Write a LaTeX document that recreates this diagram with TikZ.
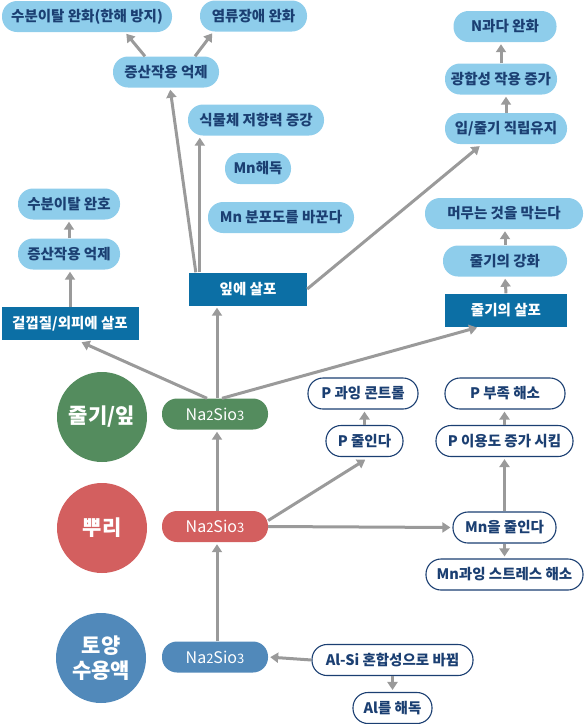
\documentclass[tikz,border=0pt]{standalone}
\usepackage{fontspec}
\setmainfont{Noto Sans CJK KR}
\usetikzlibrary{arrows.meta,calc}
\definecolor{c0}{HTML}{8ECDEB}
\definecolor{c1}{HTML}{0C6FA5}
\definecolor{c2}{HTML}{1B3F72}
\definecolor{c3}{HTML}{548C5E}
\definecolor{c4}{HTML}{D35F5F}
\definecolor{c5}{HTML}{5189BA}
\definecolor{c6}{HTML}{9A9A9A}
\tikzset{%
  pill/.style={rectangle,rounded corners=15pt,fill=c0,text=c2,inner sep=0pt,
    minimum width=#1,minimum height=31pt,font=\bfseries\fontsize{14.5}{17}\selectfont},
  ring/.style={rectangle,rounded corners=15pt,draw=c2,line width=1.1pt,fill=white,text=c2,
    inner sep=0pt,minimum width=#1,minimum height=31pt,font=\bfseries\fontsize{14.5}{17}\selectfont},
  spray/.style={rectangle,fill=c1,text=white,inner sep=0pt,minimum width=#1,
    minimum height=33pt,font=\bfseries\fontsize{14.5}{17}\selectfont},
  na/.style={rectangle,rounded corners=15pt,fill=#1,text=white,inner sep=0pt,
    minimum width=106pt,minimum height=31pt,font=\fontsize{16}{18}\selectfont},
  part/.style={circle,fill=#1,text=white,inner sep=0pt,minimum size=90pt,align=center,
    font=\bfseries\fontsize{21}{25}\selectfont},
  arr/.style={c6,line width=3pt,shorten >=2pt,-{Triangle[width=10pt,length=8pt]}}
}
\newcommand\nasio{Na{\fontsize{13}{15}\selectfont 2}Sio{\fontsize{13}{15}\selectfont 3}}

\begin{document}
\begin{tikzpicture}[x=1pt,y=-1pt]
  \useasboundingbox (0,0) rectangle (584,724);
  % Parts
  \node[part=c3] (stemleaf) at (102,417) {줄기/잎};
  \node[part=c4] (root) at (102,528) {뿌리};
  \node[part=c5] (soil) at (101,658) {토양\\수용액};
  \node[na=c3] (gNa) at (215,414) {\nasio};
  \node[na=c4] (rNa) at (215,526.5) {\nasio};
  \node[na=c5] (sNa) at (215,657) {\nasio};
  % Sprays
  \node[spray=118pt] (leafspray) at (248,289) {잎에 살포};
  \node[spray=122pt] (stemspray) at (506,310) {줄기의 살포};
  \node[spray=137pt] (bark) at (70,323.5) {겉껍질/외피에 살포};
  % Effects of leaf spray
  \node[pill=170pt] (drought) at (87,16.5) {수분이탈 완화(한해 방지)};
  \node[pill=107pt] (salt) at (253.5,16) {염류장애 완화};
  \node[pill=106pt] (transp) at (166,72) {증산작용 억제};
  \node[pill=136pt] (resist) at (256,120) {식물체 저항력 증강};
  \node[pill=66pt] (mndetox) at (258,168.5) {Mn해독};
  \node[pill=146pt] (mnspread) at (281,217.5) {Mn 분포도를 바꾼다};
  % Effects of stem spray
  \node[pill=103pt] (nrelief) at (505,26.5) {N과다 완화};
  \node[pill=112pt] (photo) at (501,79) {광합성 작용 증가};
  \node[pill=122pt] (stemup) at (506,128.5) {입/줄기 직립유지};
  \node[pill=158pt] (lodge) at (504,213.5) {머무는 것을 막는다};
  \node[pill=124pt] (stemhard) at (505,261) {줄기의 강화};
  % Effects of bark spray
  \node[pill=102pt] (drought2) at (69,204) {수분이탈 완호};
  \node[pill=102pt] (transp2) at (69,254) {증산작용 억제};
  % Effects in root
  \node[ring=110pt] (pcontrol) at (363,393.5) {P 과잉 콘트롤};
  \node[ring=77pt] (preduce) at (364.5,441) {P 줄인다};
  \node[ring=120pt] (plack) at (505,393.5) {P 부족 해소};
  \node[ring=137pt] (puse) at (504.5,441) {P 이용도 증가 시킴};
  \node[ring=103pt] (mnreduce) at (504.5,527.5) {Mn을 줄인다};
  \node[ring=157pt] (mnstress) at (504.5,574.5) {Mn과잉 스트레스 해소};
  % Effects in soil
  \node[ring=161pt] (alsi) at (392.5,660) {Al-Si 혼합성으로 바뀜};
  \node[ring=79pt] (aldetox) at (392.5,708) {Al를 해독};
  % Arrows
  \coordinate (lf) at ([xshift=11pt]leafspray.north west);
  \draw[arr] (lf) -- (lf |- resist.south);
  \draw[arr] ([xshift=7pt]leafspray.north west) -- ([xshift=4pt]transp.south);
  \draw[arr] ([xshift=-21pt]transp.north) -- ([xshift=38pt]drought.south);
  \draw[arr] ([xshift=29pt]transp.north) -- ([xshift=-40pt]salt.south);
  \draw[arr,shorten >=3pt] (leafspray.east) -- ([xshift=-24pt]stemup.south);
  \draw[arr] (stemup.north) -- (stemup.north |- photo.south);
  \draw[arr] (photo.north) -- (photo.north |- nrelief.south);
  \draw[arr] (stemspray.north) -- (stemhard.south);
  \draw[arr] (stemhard.north) -- (stemhard.north |- lodge.south);
  \draw[arr] (bark.north) -- (bark.north |- transp2.south);
  \draw[arr] (transp2.north) -- (drought2.south);
  \draw[arr,shorten >=5pt] ([xshift=-8pt]gNa.north) -- ([xshift=7pt]bark.south);
  \coordinate (gup) at ([xshift=2pt]gNa.north);
  \draw[arr] (gup) -- (gup |- leafspray.south);
  \draw[arr,shorten >=3pt] ([xshift=7pt]gNa.north) -- ([xshift=-26pt]stemspray.south);
  \coordinate (rup) at ([xshift=2pt]rNa.north);
  \draw[arr] (rup) -- (rup |- gNa.south);
  \coordinate (sup) at ([xshift=2pt]sNa.north);
  \draw[arr] (sup) -- (sup |- rNa.south);
  \draw[arr] (rNa.east) -- (mnreduce.west);
  \draw[arr,shorten >=5pt] ([yshift=6pt]rNa.east) -- ([xshift=5pt]preduce.south);
  \draw[arr] (preduce.north) -- (preduce.north |- pcontrol.south);
  \draw[arr] (mnreduce.north) -- (mnreduce.north |- puse.south);
  \draw[arr] (puse.north) -- (puse.north |- plack.south);
  \draw[arr] (mnreduce.south) -- (mnreduce.south |- mnstress.north);
  \draw[arr] (alsi.west) -- (sNa.east);
  \draw[arr] (alsi.south) -- (aldetox.north);
\end{tikzpicture}
\end{document}
